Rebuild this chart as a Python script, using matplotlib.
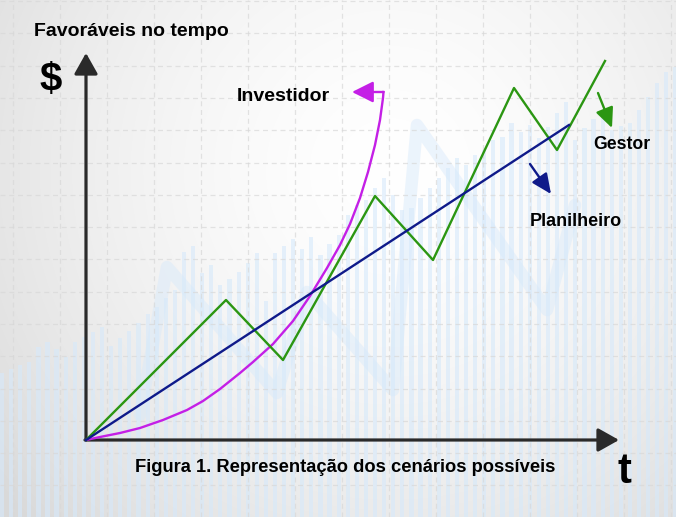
import numpy as np
import matplotlib
matplotlib.use("Agg")
import matplotlib.pyplot as plt

plt.rcParams['font.family'] = ['Liberation Sans', 'DejaVu Sans']

# ---------------- data (chart units: 1 unit = 10 px, origin at axis origin) -------------
gestor_t = [0, 14.0, 19.7, 28.9, 34.7, 42.8, 47.1, 51.9]
gestor_v = [0, 14.0, 8.0, 24.4, 18.0, 35.2, 29.0, 37.9]

planilheiro_t = [0, 48.3]
planilheiro_v = [0, 31.5]

investidor_t = [0, 1.4, 3.4, 5.4, 7.7, 10.1, 11.7, 13.4, 15.4, 16.7, 18.7, 20.7, 22.4,
                24.1, 25.4, 26.4, 27.4, 28.2, 28.9, 29.4, 29.7, 29.75]
investidor_v = [0, 0.3, 0.7, 1.2, 2.0, 3.0, 3.9, 5.1, 6.7, 7.8, 9.6, 11.9, 14.4,
                17.2, 19.5, 21.6, 24.2, 26.8, 29.5, 32.0, 34.2, 34.8]

# decorative background bars (top of each bar in pixel rows)
bg_bar_tops = [373, 369, 365, 362, 347, 342, 349, 357, 342, 337, 332, 327, 346, 338, 331,
               323, 314, 307, 298, 290, 252, 246, 273, 265, 285, 279, 272, 263, 253, 301,
               253, 246, 239, 249, 237, 255, 244, 235, 215, 205, 200, 188, 178, 195, 210,
               208, 198, 188, 178, 168, 158, 165, 155, 150, 140, 137, 123, 132, 125, 138,
               127, 113, 102, 140, 128, 119, 110, 130, 126, 123, 110, 97, 83, 72, 67]
bg_line_x = [140, 167, 277, 307, 393, 417, 547, 575]
bg_line_y = [415, 267, 393, 292, 390, 125, 310, 205]

labels = ["Investidor", "Gestor", "Planilheiro"]
title_y = "Favoráveis no tempo"
caption = "Figura 1. Representação dos cenários possíveis"

W, H = 676, 517
fig = plt.figure(figsize=(W / 100, H / 100), dpi=100)

# ---------------- background ----------------
bg = fig.add_axes([0, 0, 1, 1], zorder=0)
bg.set_xlim(0, W)
bg.set_ylim(H, 0)
bg.axis('off')
yy, xx = np.mgrid[0:H, 0:W]
d = np.sqrt(((xx - 390) / 420.0) ** 2 + ((yy - 170) / 420.0) ** 2)
shade = 1.0 - 0.11 * np.clip(d, 0, 1.2) ** 1.6
img = np.dstack([shade, shade, shade])
bg.imshow(img, extent=[0, W, H, 0], aspect='auto', zorder=0)

bar_x = 2 + 9.1 * np.arange(len(bg_bar_tops))
bar_tops = np.array(bg_bar_tops)
bg.bar(bar_x, H - bar_tops, bottom=bar_tops, width=4.2, color='#d6e9fb', alpha=0.6,
       zorder=1, linewidth=0)
bg.plot(bg_line_x, bg_line_y, color='#d6e9fb', lw=9, alpha=0.45, solid_capstyle='round',
        solid_joinstyle='round', zorder=2)

for gx in np.arange(13, W, 47):
    bg.axvline(gx, color='#d8d8d8', lw=0.9, dashes=(4, 3), zorder=3, alpha=0.7)
for gy in np.arange(1, H, 32.3):
    bg.axhline(gy, color='#d8d8d8', lw=0.9, dashes=(4, 3), zorder=3, alpha=0.7)

# ---------------- main chart ----------------
ax = fig.add_axes([0, 0, 1, 1], zorder=1)
ax.patch.set_alpha(0)
ax.set_xlim(-8.6, (W - 86) / 10)
ax.set_ylim((440 - H) / 10, 44.0)
ax.axis('off')


def px(x, y):
    return (x - 86) / 10.0, (440 - y) / 10.0


GREEN = '#2b9612'
BLUE = '#0f1a8a'
MAGENTA = '#c41fe6'
AXC = '#2a2a2a'

# axes arrows
ax.annotate('', xy=(0, 38.7), xytext=(0, 0),
            arrowprops=dict(arrowstyle='-|>,head_length=0.8,head_width=0.45', lw=2.3,
                            color=AXC, shrinkA=0, shrinkB=0, mutation_scale=16))
ax.annotate('', xy=(53.3, 0), xytext=(-0.1, 0),
            arrowprops=dict(arrowstyle='-|>,head_length=0.8,head_width=0.45', lw=2.3,
                            color=AXC, shrinkA=0, shrinkB=0, mutation_scale=16))

ax.plot(investidor_t, investidor_v, color=MAGENTA, lw=1.7, solid_joinstyle='round', zorder=3)
ax.plot(gestor_t, gestor_v, color=GREEN, lw=1.7, zorder=4)
ax.plot(planilheiro_t, planilheiro_v, color=BLUE, lw=1.7, zorder=5)

# magenta end arrow
ax.annotate('', xy=(26.6, investidor_v[-1]), xytext=(investidor_t[-1], investidor_v[-1]),
            arrowprops=dict(arrowstyle='-|>,head_length=1.0,head_width=0.5', lw=1.7,
                            color=MAGENTA, shrinkA=0, shrinkB=0, mutation_scale=13))
# label arrows
ax.annotate('', xy=px(612, 128), xytext=px(598, 93),
            arrowprops=dict(arrowstyle='-|>,head_length=1.1,head_width=0.5', lw=1.7,
                            color=GREEN, shrinkA=0, shrinkB=0, mutation_scale=11))
ax.annotate('', xy=px(551, 194), xytext=px(530, 164),
            arrowprops=dict(arrowstyle='-|>,head_length=1.1,head_width=0.5', lw=1.7,
                            color=BLUE, shrinkA=0, shrinkB=0, mutation_scale=11))

# texts
tk = dict(fontweight='bold', color='black')
ax.text(*px(34, 36), title_y, fontsize=14, ha='left', va='baseline', **tk)
ax.text(*px(40, 80), "$", fontsize=29, ha='left', va='center', **tk)
ax.text(*px(237, 101), labels[0], fontsize=14, ha='left', va='baseline', **tk)
ax.text(*px(593, 149), labels[1], fontsize=12.7, ha='left', va='baseline', **tk)
ax.text(*px(530, 226), labels[2], fontsize=13, ha='left', va='baseline', **tk)
ax.text(*px(135, 472), caption, fontsize=13.2, ha='left', va='baseline', **tk)
ax.text(*px(618, 483), "t", fontsize=30, ha='left', va='baseline', **tk)

fig.savefig('out.png', dpi=100)
